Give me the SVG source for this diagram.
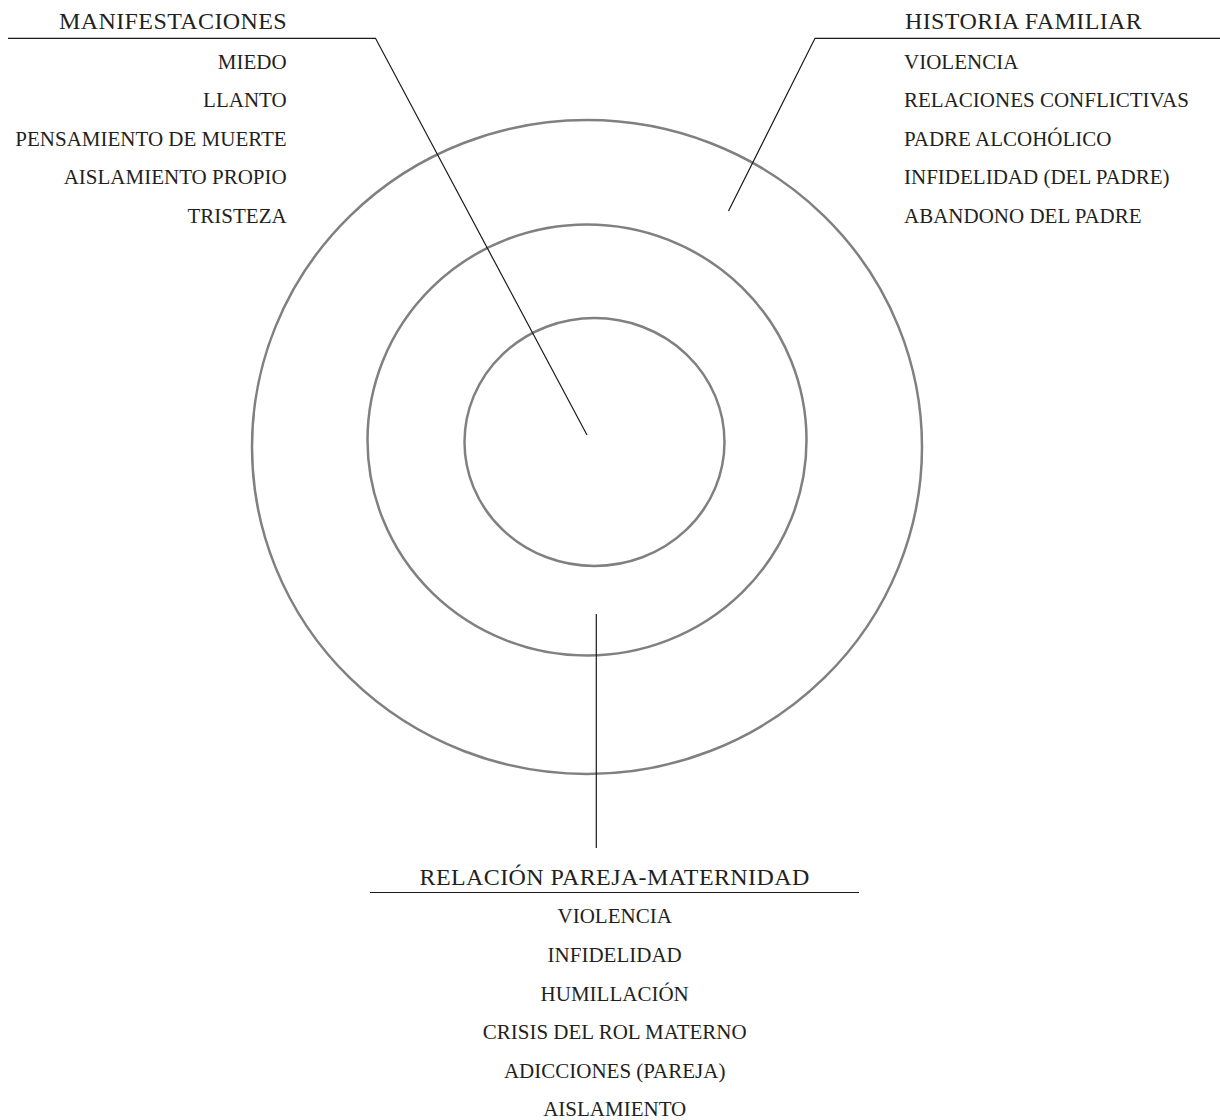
<svg xmlns="http://www.w3.org/2000/svg" width="1220" height="1120" viewBox="0 0 1220 1120">
<style>
.ring{fill:none;stroke:#808080;stroke-width:2.5}
.ln{fill:none;stroke:#1a1a1a;stroke-width:1.2}
.hd{font-family:"Liberation Serif","Times New Roman",serif;font-size:24px;letter-spacing:0.4px;fill:#231f20}
.it{font-family:"Liberation Serif","Times New Roman",serif;font-size:21px;fill:#231f20}
</style>
<rect width="1220" height="1120" fill="#ffffff"/>
<g id="rings">
<ellipse class="ring" cx="587" cy="447" rx="335" ry="327"/>
<ellipse class="ring" cx="587" cy="440" rx="219.5" ry="215.5"/>
<ellipse class="ring" cx="594.5" cy="442" rx="130" ry="124"/>
</g>
<g id="connectors">
<polyline class="ln" points="8,38.3 375.5,38.3 587,435"/>
<polyline class="ln" points="1220,38.3 815,38.3 728.5,211"/>
<line class="ln" x1="596.3" y1="614" x2="596.3" y2="848" stroke="#333"/>
<line class="ln" x1="370" y1="892.5" x2="859" y2="892.5"/>
</g>
<g id="manifestaciones">
<text class="hd" x="287.1" y="29.3" text-anchor="end">MANIFESTACIONES</text>
<g class="it" text-anchor="end">
<text x="286.7" y="69">MIEDO</text>
<text x="286.7" y="107.3">LLANTO</text>
<text x="286.7" y="145.7">PENSAMIENTO DE MUERTE</text>
<text x="286.7" y="184.2">AISLAMIENTO PROPIO</text>
<text x="286.7" y="222.6">TRISTEZA</text>
</g>
</g>
<g id="historia-familiar">
<text class="hd" x="905" y="29.3">HISTORIA FAMILIAR</text>
<g class="it">
<text x="904" y="69">VIOLENCIA</text>
<text x="904" y="107.3">RELACIONES CONFLICTIVAS</text>
<text x="904" y="145.7">PADRE ALCOHÓLICO</text>
<text x="904" y="184.2">INFIDELIDAD (DEL PADRE)</text>
<text x="904" y="222.6">ABANDONO DEL PADRE</text>
</g>
</g>
<g id="relacion-pareja-maternidad">
<text class="hd" x="614.6" y="885" text-anchor="middle">RELACIÓN PAREJA-MATERNIDAD</text>
<g class="it" text-anchor="middle">
<text x="614.7" y="923.3">VIOLENCIA</text>
<text x="614.7" y="962">INFIDELIDAD</text>
<text x="614.7" y="1000.6">HUMILLACIÓN</text>
<text x="614.7" y="1039.2">CRISIS DEL ROL MATERNO</text>
<text x="614.7" y="1077.8">ADICCIONES (PAREJA)</text>
<text x="614.7" y="1116.4">AISLAMIENTO</text>
</g>
</g>
</svg>
